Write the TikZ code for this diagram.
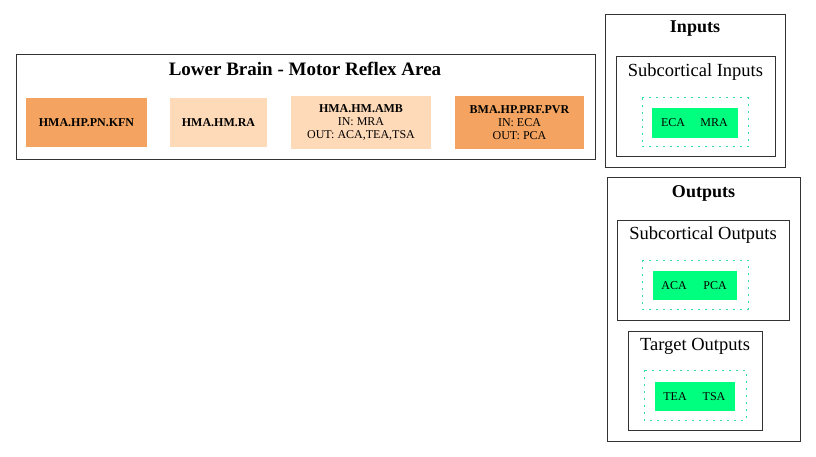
\documentclass[tikz,border=0pt]{standalone}
\usepackage{fontspec}
\setmainfont{Liberation Serif}
\definecolor{sandy}{HTML}{F4A460}
\definecolor{peach}{HTML}{FFDAB9}
\definecolor{sgreen}{HTML}{00FF7F}
\definecolor{dotc}{HTML}{30DCA8}
\begin{document}
\begin{tikzpicture}[x=1pt,y=-1pt,
  cluster/.style={draw=black!80,line width=1pt},
  ttl/.style={font=\bfseries\fontsize{18}{20}\selectfont,anchor=center},
  sub/.style={font=\fontsize{18.5}{20}\selectfont,anchor=center},
  proc/.style={draw=none,inner sep=0pt,align=center,font=\fontsize{12}{13}\selectfont},
  dotbox/.style={draw=dotc,dash pattern=on 2pt off 5pt,line width=1pt},
  lbl/.style={font=\fontsize{12}{14}\selectfont,anchor=center}]
\useasboundingbox (0,0) rectangle (816,457);
% Lower brain cluster
\draw[cluster] (16,55) rectangle (595,160);
\node[ttl,font=\bfseries\fontsize{19}{21}\selectfont] (lbt) at (305,69) {Lower Brain - Motor Reflex Area};
\fill[sandy] (26,98) rectangle (147,147);
\node[proc] (n1) at (86.5,122.5) {\textbf{HMA.HP.PN.KFN}};
\fill[peach] (170,98) rectangle (267,147);
\node[proc] (n2) at (218.5,122.5) {\textbf{HMA.HM.RA}};
\fill[peach] (291,96) rectangle (431,149);
\node[proc] (n3) at (361,122.5) {\textbf{HMA.HM.AMB}\\IN: MRA\\OUT: ACA,TEA,TSA};
\fill[sandy] (455,96) rectangle (584,149);
\node[proc] (n4) at (519.5,122.5) {\textbf{BMA.HP.PRF.PVR}\\IN: ECA\\OUT: PCA};
% Inputs
\draw[cluster] (605,15) rectangle (785,168);
\node[ttl] (it) at (695,29) {Inputs};
\draw[cluster] (616,57) rectangle (775,157);
\node[sub] (sit) at (695.5,72) {Subcortical Inputs};
\draw[dotbox] (642,98) rectangle (748,147);
\fill[sgreen] (652,108) rectangle (738,138);
\node[lbl] (eca) at (673,123) {ECA};
\node[lbl] (mra) at (714,123) {MRA};
% Outputs
\draw[cluster] (607,178) rectangle (800,441);
\node[ttl] (ot) at (703.5,193) {Outputs};
\draw[cluster] (617,220) rectangle (789,320);
\node[sub] (sot) at (703,235) {Subcortical Outputs};
\draw[dotbox] (642,260) rectangle (748,309);
\fill[sgreen] (653,271) rectangle (737,300);
\node[lbl] (aca) at (674,285.5) {ACA};
\node[lbl] (pca) at (715,285.5) {PCA};
\draw[cluster] (628,331) rectangle (762,430);
\node[sub] (tot) at (695,346) {Target Outputs};
\draw[dotbox] (644,370) rectangle (746,420);
\fill[sgreen] (655,382) rectangle (735,411);
\node[lbl] (tea) at (675,396.5) {TEA};
\node[lbl] (tsa) at (714,396.5) {TSA};
\end{tikzpicture}
\end{document}
